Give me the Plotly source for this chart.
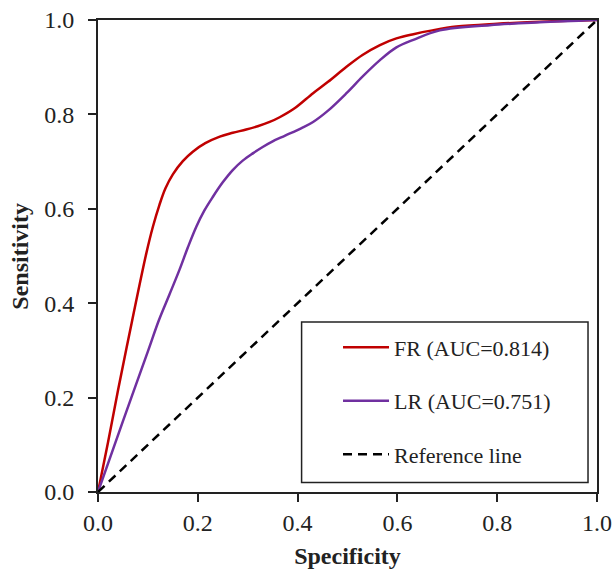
import plotly.graph_objects as go

# ---- data ----
fr_x = [0, 0.02, 0.04, 0.0686, 0.0967, 0.11, 0.123, 0.135, 0.15, 0.17, 0.19, 0.215, 0.244, 0.27,
        0.297, 0.32, 0.344, 0.364, 0.394, 0.431, 0.461, 0.498, 0.53, 0.565, 0.598, 0.632, 0.67,
        0.718, 0.8, 0.9, 1.0]
fr_y = [0, 0.105, 0.215, 0.364, 0.505, 0.562, 0.608, 0.643, 0.673, 0.701, 0.721, 0.739, 0.753,
        0.761, 0.768, 0.775, 0.784, 0.794, 0.813, 0.845, 0.869, 0.901, 0.926, 0.947, 0.961, 0.970,
        0.978, 0.986, 0.992, 0.997, 1.0]

lr_x = [0, 0.05, 0.10, 0.122, 0.143, 0.163, 0.18, 0.197, 0.213, 0.23, 0.25, 0.27, 0.29, 0.311,
        0.33, 0.35, 0.375, 0.408, 0.431, 0.461, 0.498, 0.53, 0.565, 0.598, 0.632, 0.685,
        0.785, 0.885, 1.0]
lr_y = [0, 0.15, 0.298, 0.364, 0.418, 0.47, 0.518, 0.562, 0.596, 0.625, 0.656, 0.682, 0.702,
        0.718, 0.731, 0.743, 0.755, 0.771, 0.784, 0.808, 0.845, 0.88, 0.915, 0.942, 0.958,
        0.978, 0.989, 0.995, 1.0]

ref_x = [0, 1]
ref_y = [0, 1]

names = ["FR (AUC=0.814)", "LR (AUC=0.751)", "Reference line"]
ticks = [0, 0.2, 0.4, 0.6, 0.8, 1.0]

FONT = "Times New Roman, Liberation Serif, serif"

fig = go.Figure()
fig.add_trace(go.Scatter(x=fr_x, y=fr_y, mode="lines", name=names[0], legendgroup="a",
                         line=dict(color="#C00000", width=2.5, shape="spline", smoothing=1.0)))
fig.add_trace(go.Scatter(x=lr_x, y=lr_y, mode="lines", name=names[1], legendgroup="b",
                         line=dict(color="#7030A0", width=2.5, shape="spline", smoothing=1.0)))
fig.add_trace(go.Scatter(x=ref_x, y=ref_y, mode="lines", name=names[2], legendgroup="c",
                         line=dict(color="black", width=2.5, dash="9px,6px")))

fig.update_layout(
    width=616, height=571,
    margin=dict(l=98, r=19, t=20, b=79, autoexpand=False),
    paper_bgcolor="white", plot_bgcolor="white",
    font=dict(family=FONT, size=24, color="#222"),
    showlegend=True,
    legend=dict(x=0.481, y=0.351, xanchor="left", yanchor="top",
                bgcolor="rgba(0,0,0,0)", borderwidth=0, itemwidth=46,
                font=dict(family=FONT, size=22, color="#222"),
                traceorder="grouped", tracegroupgap=22),
    shapes=[dict(type="rect", xref="paper", yref="paper",
                 x0=0.408, x1=0.982, y0=0.02, y1=0.36,
                 line=dict(color="#222", width=1.5), fillcolor="rgba(0,0,0,0)")],
    annotations=[dict(text="<b>Sensitivity</b>", xref="paper", yref="paper",
                      x=-0.157, y=0.5, xanchor="center", yanchor="middle",
                      textangle=-90, showarrow=False, font=dict(family=FONT, size=24))],
)
fig.update_xaxes(range=[0, 1], tickvals=ticks, tickformat=".1f", automargin=False,
                 showgrid=False, zeroline=False, showline=True, linecolor="#222", linewidth=2,
                 mirror=True, ticks="outside", ticklen=8, tickwidth=2, tickcolor="#222",
                 title=dict(text="<b>Specificity</b>", font=dict(family=FONT, size=24), standoff=12))
fig.update_yaxes(range=[0, 1], tickvals=ticks, tickformat=".1f", automargin=False,
                 ticklabelstandoff=9,
                 showgrid=False, zeroline=False, showline=True, linecolor="#222", linewidth=2,
                 mirror=True, ticks="outside", ticklen=8, tickwidth=2, tickcolor="#222")

fig.write_html("out.html", config={"displayModeBar": False},
               post_script="document.body.style.margin='0';")
